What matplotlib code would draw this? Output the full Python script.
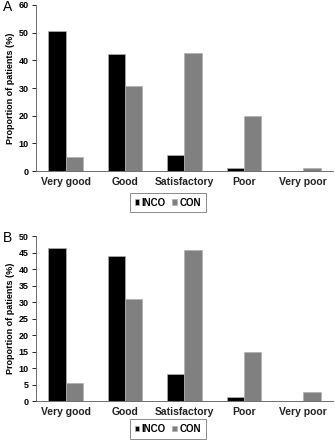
import matplotlib.pyplot as plt
import numpy as np

plt.rcParams['font.family'] = ['Liberation Sans', 'DejaVu Sans']

categories = ['Very good', 'Good', 'Satisfactory', 'Poor', 'Very poor']
inco_a = [50.6, 42.3, 6.0, 1.2, 0.0]
con_a = [5.2, 30.6, 42.7, 20.0, 1.2]
inco_b = [46.4, 44.0, 8.3, 1.1, 0.0]
con_b = [5.4, 31.0, 45.8, 14.8, 2.6]

fig = plt.figure(figsize=(3.35, 4.4), dpi=100)
axA = fig.add_axes([0.107, 0.611, 0.887, 0.378])
axB = fig.add_axes([0.107, 0.0886, 0.887, 0.375])

x = np.arange(len(categories))
w = 0.29

def panel(ax, inco, con, ymax, step, letter, legy):
	ax.bar(x - w/2, inco, w, color='black', edgecolor='#b0b0b0', linewidth=0.5, label='INCO')
	ax.bar(x + w/2, con, w, color='#808080', edgecolor='#b0b0b0', linewidth=0.5, label='CON')
	ax.set_xlim(-0.5, 4.5)
	ax.set_ylim(0, ymax)
	ax.set_yticks(np.arange(0, ymax + 1, step))
	ax.set_xticks(x)
	ax.set_xticklabels(categories, fontsize=7.5, fontweight='semibold', color='#222222')
	ax.tick_params(axis='x', length=0, pad=4)
	ax.tick_params(axis='y', labelsize=6.5, length=3, width=0.6, pad=2)
	for lab in ax.get_yticklabels():
		lab.set_fontweight('bold')
	ax.spines['top'].set_visible(False)
	ax.spines['right'].set_visible(False)
	ax.spines['left'].set_linewidth(0.6)
	ax.spines['bottom'].set_linewidth(0.6)
	ax.spines['left'].set_color('#555555')
	ax.spines['bottom'].set_color('#555555')
	ax.set_ylabel('Proportion of patients (%)', fontsize=6.5, fontweight='bold', labelpad=3)
	leg = ax.legend(loc='upper center', bbox_to_anchor=(0.444, legy), ncol=2, fontsize=7,
		handlelength=0.45, handleheight=0.45, handletextpad=0.25, columnspacing=0.7,
		frameon=True, fancybox=False, borderpad=0.5, edgecolor='#555555')
	leg.get_frame().set_linewidth(0.6)
	for t in leg.get_texts():
		t.set_fontweight('bold')
	fig.text(0.008, ax.get_position().y1 - 0.005, letter, fontsize=10, va='center', ha='left')

panel(axA, inco_a, con_a, 60, 10, 'A', -0.10)
panel(axB, inco_b, con_b, 50, 5, 'B', -0.08)

fig.savefig('out.png', dpi=100)
